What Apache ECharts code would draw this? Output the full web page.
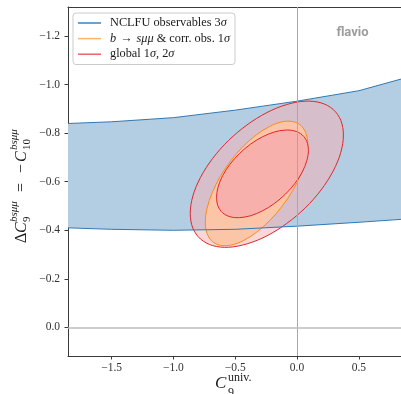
<!DOCTYPE html>
<html>
<head>
<meta charset="utf-8">
<script src="https://cdn.jsdelivr.net/npm/echarts@6/dist/echarts.min.js"></script>
<style>
html,body{margin:0;padding:0;background:#fff;}
#chart{width:401px;height:394px;}
</style>
</head>
<body>
<div id="chart"></div>
<script>
// ---- data ----
const xTicks = [-1.5, -1.0, -0.5, 0.0, 0.5];
const yTicks = [-1.2, -1.0, -0.8, -0.6, -0.4, -0.2, 0.0];

// NCLFU observables 3 sigma band
const bandX     = [-1.853, -1.5, -1.0, -0.5, 0.0, 0.5, 0.841];
const bandUpper = [-0.840, -0.847, -0.864, -0.895, -0.932, -0.975, -1.023];
const bandLower = [-0.410, -0.404, -0.400, -0.404, -0.417, -0.433, -0.445];

// global 2 sigma contour (boundary points)
const global2X = [0.375, 0.354, 0.292, 0.194, 0.066, -0.084, -0.244, -0.405, -0.554, -0.683, -0.781, -0.843, -0.864, -0.843, -0.781, -0.683, -0.554, -0.405, -0.244, -0.084, 0.066, 0.194, 0.292, 0.354];
const global2Y = [-0.793, -0.721, -0.644, -0.566, -0.492, -0.428, -0.377, -0.344, -0.330, -0.337, -0.364, -0.409, -0.469, -0.541, -0.618, -0.696, -0.770, -0.834, -0.885, -0.918, -0.932, -0.925, -0.898, -0.853];

// b -> s mu mu & corr. obs. 1 sigma contour
const bsmmX = [0.087, 0.072, 0.031, -0.035, -0.121, -0.221, -0.328, -0.435, -0.535, -0.621, -0.686, -0.728, -0.742, -0.728, -0.686, -0.621, -0.535, -0.435, -0.328, -0.221, -0.121, -0.035, 0.031, 0.072];
const bsmmY = [-0.752, -0.695, -0.631, -0.564, -0.499, -0.440, -0.392, -0.357, -0.339, -0.338, -0.354, -0.387, -0.433, -0.491, -0.555, -0.622, -0.687, -0.746, -0.794, -0.828, -0.847, -0.848, -0.832, -0.799];

// global 1 sigma contour
const global1X = [0.092, 0.079, 0.042, -0.017, -0.094, -0.184, -0.280, -0.376, -0.466, -0.543, -0.602, -0.639, -0.651, -0.639, -0.602, -0.543, -0.466, -0.376, -0.280, -0.184, -0.094, -0.017, 0.042, 0.079];
const global1Y = [-0.729, -0.687, -0.640, -0.593, -0.549, -0.510, -0.480, -0.460, -0.452, -0.456, -0.472, -0.499, -0.535, -0.578, -0.625, -0.672, -0.716, -0.755, -0.785, -0.805, -0.813, -0.809, -0.793, -0.766];

const nameBand = 'NCLFU observables 3σ';
const nameBsmm = 'b → sμμ & corr. obs. 1σ';
const nameGlobal = 'global 1σ, 2σ';

// ---- build ----
const zip = (xs, ys) => xs.map((x, i) => [x, ys[i]]);
const bandUpperPts = zip(bandX, bandUpper);
const bandLowerPts = zip(bandX, bandLower);
const bandPolyPts = bandUpperPts.concat(bandLowerPts.slice().reverse());
const global2Pts = zip(global2X, global2Y);
const bsmmPts = zip(bsmmX, bsmmY);
const global1Pts = zip(global1X, global1Y);

const XMIN = -1.853, XMAX = 0.841, YMIN = -1.32, YMAX = 0.118;
const SERIF = 'Liberation Serif';
const fmt = v => (v < 0 ? '\u2212' : '') + Math.abs(v).toFixed(1);

function polyRenderer(pts, style, smooth) {
  return function (params, api) {
    if (params.dataIndex !== 0) return null;
    return {
      type: 'polygon',
      shape: { points: pts.map(p => api.coord(p)), smooth: smooth },
      style: style
    };
  };
}
function bandLineRenderer(params, api) {
  if (params.dataIndex !== 0) return null;
  const st = { fill: 'none', stroke: '#2f79b5', lineWidth: 1 };
  return {
    type: 'group',
    children: [
      { type: 'polyline', shape: { points: bandUpperPts.map(p => api.coord(p)) }, style: st },
      { type: 'polyline', shape: { points: bandLowerPts.map(p => api.coord(p)) }, style: st }
    ]
  };
}

const chart = echarts.init(document.getElementById('chart'), null, { renderer: 'canvas' });

const axisCommon = {
  type: 'value',
  splitLine: { show: false },
  axisLine: { show: true, onZero: false, lineStyle: { color: '#3a3a3a', width: 1 } }
};

const legendMap = {};
legendMap[nameBand] = '{p| }{n|NCLFU observables 3}{i|σ}';
legendMap[nameBsmm] = '{p| }{i|b}{a|→}{i|sμμ}{n| & corr. obs. 1}{i|σ}';
legendMap[nameGlobal] = '{p| }{n|global 1}{i|σ}{n|, 2}{i|σ}';

const TXT = '#1a1a1a';
const FS = 12.3;
const option = {
  animation: false,
  backgroundColor: '#fff',
  grid: { left: 68, top: 7, right: 0, bottom: 38, containLabel: false, outerBoundsMode: 'none' },
  xAxis: [
    Object.assign({}, axisCommon, {
      min: XMIN, max: XMAX, position: 'bottom',
      axisTick: { show: true, inside: false, length: 3.5, customValues: xTicks, lineStyle: { color: '#3a3a3a' } },
      axisLabel: { show: true, customValues: xTicks, margin: 6, formatter: fmt, color: '#333', fontFamily: SERIF, fontSize: 11.5 }
    }),
    Object.assign({}, axisCommon, {
      min: XMIN, max: XMAX, position: 'top',
      axisTick: { show: false }, axisLabel: { show: false }
    })
  ],
  yAxis: Object.assign({}, axisCommon, {
    min: YMIN, max: YMAX, inverse: true, position: 'left',
    axisTick: { show: true, inside: false, length: 3.5, customValues: yTicks, lineStyle: { color: '#3a3a3a' } },
    axisLabel: { show: true, customValues: yTicks, margin: 8, formatter: fmt, color: '#333', fontFamily: SERIF, fontSize: 11.5 }
  }),
  legend: {
    show: true,
    orient: 'vertical',
    left: 73, top: 13,
    padding: [3, 5, 3.3, 5],
    itemWidth: 23, itemHeight: 1.5, itemGap: 1.6,
    icon: 'rect',
    backgroundColor: 'rgba(255,255,255,0.85)',
    borderColor: '#cccccc', borderWidth: 1, borderRadius: 3,
    selectedMode: false,
    data: [
      { name: nameBand, itemStyle: { color: '#3f82bf' } },
      { name: nameBsmm, itemStyle: { color: '#ffb468' } },
      { name: nameGlobal, itemStyle: { color: '#ef6464' } }
    ],
    formatter: name => legendMap[name],
    textStyle: {
      fontFamily: SERIF, fontSize: FS, color: TXT, lineHeight: 14,
      rich: {
        p: { width: 4, fontSize: FS, lineHeight: 14 },
        n: { fontFamily: SERIF, fontSize: FS, color: TXT, lineHeight: 14 },
        a: { fontFamily: SERIF, fontSize: FS, color: TXT, lineHeight: 14, padding: [0, 4, 0, 4] },
        i: { fontFamily: SERIF, fontStyle: 'italic', fontSize: FS, color: TXT, lineHeight: 14 }
      }
    }
  },
  graphic: [
    { type: 'text', x: 352.5, y: 33, style: { text: 'flavio', font: 'bold 13px Roboto', fill: '#9d9d9d', align: 'center', verticalAlign: 'middle' }, silent: true },
    // x-axis title  C_9^{univ.}
    { type: 'text', x: 215, y: 384, style: { text: 'C', font: 'italic 17px "Liberation Serif"', fill: TXT, verticalAlign: 'middle' } },
    { type: 'text', x: 228, y: 378, style: { text: 'univ.', font: '12px "Liberation Serif"', fill: TXT, verticalAlign: 'middle' } },
    { type: 'text', x: 228, y: 393, style: { text: '9', font: '12px "Liberation Serif"', fill: TXT, verticalAlign: 'middle' } },
    // y-axis title  ΔC_9^{bsμμ} = −C_10^{bsμμ}
    {
      type: 'group', x: 27, y: 243, rotation: Math.PI / 2,
      children: [
        { type: 'text', x: 0,  y: -5.4, style: { text: 'Δ', font: '16px "Liberation Serif"', fill: TXT, verticalAlign: 'middle' } },
        { type: 'text', x: 10, y: -5.4, style: { text: 'C', font: 'italic 16px "Liberation Serif"', fill: TXT, verticalAlign: 'middle' } },
        { type: 'text', x: 21, y: -12.7, style: { text: 'bsμμ', font: 'italic 11px "Liberation Serif"', fill: TXT, verticalAlign: 'middle' } },
        { type: 'text', x: 21, y: -0.2, style: { text: '9', font: '11px "Liberation Serif"', fill: TXT, verticalAlign: 'middle' } },
        { type: 'text', x: 51, y: -5.4, style: { text: '=', font: '16px "Liberation Serif"', fill: TXT, verticalAlign: 'middle' } },
        { type: 'text', x: 70, y: -5.4, style: { text: '\u2212', font: '16px "Liberation Serif"', fill: TXT, verticalAlign: 'middle' } },
        { type: 'text', x: 81, y: -5.4, style: { text: 'C', font: 'italic 16px "Liberation Serif"', fill: TXT, verticalAlign: 'middle' } },
        { type: 'text', x: 93, y: -12.7, style: { text: 'bsμμ', font: 'italic 11px "Liberation Serif"', fill: TXT, verticalAlign: 'middle' } },
        { type: 'text', x: 93, y: -0.2, style: { text: '10', font: '11px "Liberation Serif"', fill: TXT, verticalAlign: 'middle' } }
      ]
    }
  ],
  series: [
    {
      name: nameBand, type: 'custom', clip: true, data: bandPolyPts, encode: { x: 0, y: 1 },
      renderItem: polyRenderer(bandPolyPts, { fill: 'rgb(179,206,227)', stroke: 'none' }, 0)
    },
    {
      name: nameGlobal, type: 'custom', clip: true, data: global2Pts, encode: { x: 0, y: 1 },
      renderItem: polyRenderer(global2Pts, { fill: 'rgba(245,178,178,0.52)', stroke: '#e0262a', lineWidth: 1 }, 0.34)
    },
    {
      name: nameBsmm, type: 'custom', clip: true, data: bsmmPts, encode: { x: 0, y: 1 },
      renderItem: polyRenderer(bsmmPts, { fill: 'rgb(251,198,168)', stroke: '#ff8a17', lineWidth: 1 }, 0.34)
    },
    {
      name: nameGlobal, type: 'custom', clip: true, data: global1Pts, encode: { x: 0, y: 1 },
      renderItem: polyRenderer(global1Pts, { fill: 'rgb(248,176,172)', stroke: '#e0262a', lineWidth: 1 }, 0.34)
    },
    {
      name: nameBand, type: 'custom', clip: true, data: bandPolyPts, encode: { x: 0, y: 1 },
      renderItem: bandLineRenderer,
      markLine: {
        silent: true, symbol: 'none', animation: false,
        label: { show: false },
        data: [
          { xAxis: 0, lineStyle: { color: '#a8a8a8', width: 1, type: 'solid' } },
          { yAxis: 0, lineStyle: { color: '#bdbdbd', width: 1.5, type: 'solid' } }
        ]
      }
    }
  ]
};
chart.setOption(option);
</script>
</body>
</html>
